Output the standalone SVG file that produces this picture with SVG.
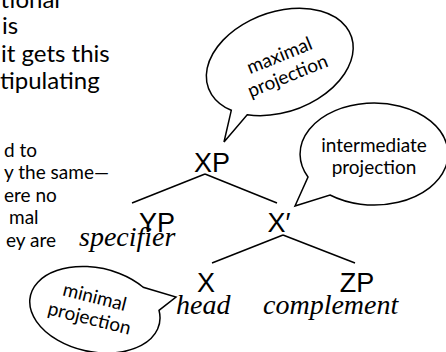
<svg xmlns="http://www.w3.org/2000/svg" width="446" height="352" viewBox="0 0 446 352">
<style>
.body{font-family:Lato,"Open Sans","DejaVu Sans",sans-serif;fill:#000}
.big{font-size:24px}
.small{font-size:19px}
.bub{font-family:Lato,"Open Sans","DejaVu Sans",sans-serif;font-size:19px;fill:#000;text-anchor:middle}
.lab{font-family:"Liberation Sans",Arial,sans-serif;font-size:27px;fill:#000;text-anchor:middle}
.it{font-family:"Liberation Serif","Times New Roman",serif;font-style:italic;font-size:28px;fill:#000}
.edge{stroke:#000;stroke-width:1.5;fill:none}
.balloon{fill:#fff;stroke:#000;stroke-width:1.5;stroke-linejoin:miter}
</style>
<rect width="446" height="352" fill="#fff"/>
<g id="left-text">
<text class="body big" x="60" y="8" text-anchor="end">tional</text>
<text class="body big" x="2" y="34">is</text>
<text class="body big" x="1" y="62">it gets this</text>
<text class="body big" x="0" y="89">tipulating</text>
<text class="body small" x="37" y="157" text-anchor="end">d to</text>
<text class="body small" x="109" y="179" text-anchor="end">y the same—</text>
<text class="body small" x="4" y="202">ere no</text>
<text class="body small" x="9" y="224">mal</text>
<text class="body small" x="6" y="247">ey are</text>
</g>
<g id="connectors">
<line class="edge" x1="205" y1="174" x2="132" y2="203"/>
<line class="edge" x1="205" y1="174" x2="277" y2="203"/>
<line class="edge" x1="283" y1="235" x2="212" y2="263"/>
<line class="edge" x1="283" y1="235" x2="355" y2="263"/>
</g>
<g id="node-xp"><text class="lab" x="212" y="172">XP</text></g>
<g id="node-yp"><text class="lab" x="157" y="232">YP</text><text class="it" x="79" y="246">specifier</text></g>
<g id="node-xbar"><text class="lab" x="279" y="232">X′</text></g>
<g id="node-x"><text class="lab" x="206" y="292">X</text><text class="it" x="176" y="314">head</text></g>
<g id="node-zp"><text class="lab" x="357" y="292">ZP</text><text class="it" x="263" y="314">complement</text></g>
<g id="bubble-maximal">
<path class="balloon" d="M247.2 114.7 A76 50 -20 1 0 231.3 110.3 L224 142 Z"/>
<g transform="rotate(-22 284 67)"><text class="bub" x="284" y="61">maximal</text><text class="bub" x="284" y="83">projection</text></g>
</g>
<g id="bubble-intermediate">
<path class="balloon" d="M330 195 A74 51 0 1 0 308 177 L295 206 Z"/>
<text class="bub" x="374" y="152">intermediate</text>
<text class="bub" x="374" y="174">projection</text>
</g>
<g id="bubble-minimal">
<path class="balloon" d="M159 310.3 A66 42 12 1 1 143.2 287.3 L176 297 Z"/>
<g transform="rotate(14 92 308)"><text class="bub" x="92" y="303">minimal</text><text class="bub" x="92" y="325">projection</text></g>
</g>
</svg>
